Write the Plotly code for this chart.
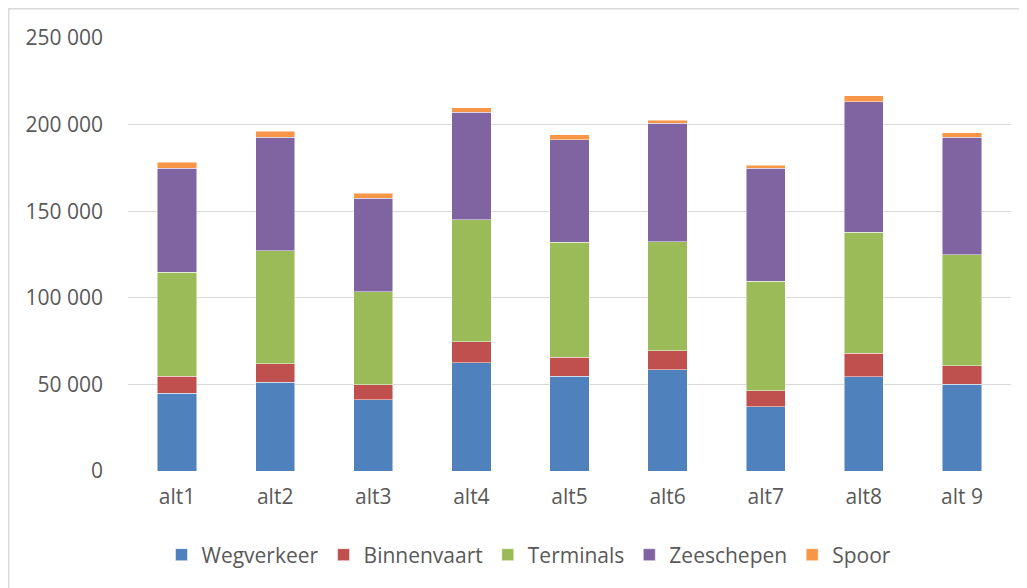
import plotly.graph_objects as go

categories = ["alt1", "alt2", "alt3", "alt4", "alt5", "alt6", "alt7", "alt8", "alt 9"]
wegverkeer = [45000, 51300, 41200, 62500, 54600, 58500, 37200, 54500, 50000]
binnenvaart = [9800, 10600, 8600, 12100, 11100, 11000, 9000, 13600, 10800]
terminals = [60000, 65200, 53800, 70600, 66300, 63000, 63300, 69800, 64200]
zeeschepen = [60000, 65500, 53800, 61900, 59400, 68300, 65400, 75200, 67700]
spoor = [3400, 3500, 2900, 2500, 2700, 1600, 1500, 3600, 2700]

series = [
    ("Wegverkeer", wegverkeer, "#4F81BD"),
    ("Binnenvaart", binnenvaart, "#C0504D"),
    ("Terminals", terminals, "#9BBB59"),
    ("Zeeschepen", zeeschepen, "#8064A2"),
    ("Spoor", spoor, "#F79646"),
]

FONT = "Open Sans"
TXT = "#595959"
GRID = "#D9D9D9"
FS = 21

fig = go.Figure()
for name, vals, col in series:
    fig.add_trace(go.Bar(
        x=categories, y=vals, name=name,
        marker=dict(color=col, line=dict(color="rgba(255,255,255,0.6)", width=0.8)),
    ))

# page body has an 8px margin, so the figure is placed at (8, 8) on screen
OFF = 8
W, H = 1027 - OFF, 588 - OFF
L, R, T, B = 128 - OFF, 16, 38 - OFF, 588 - 471
pw, ph = W - L - R, H - T - B

def px(x):
    return (x - OFF - L) / pw

def py(y):
    return (H - B - (y - OFF)) / ph

fig.update_layout(
    width=W, height=H,
    barmode="stack", bargap=0.6,
    margin=dict(l=L, r=R, t=T, b=B, pad=0),
    paper_bgcolor="white", plot_bgcolor="white",
    separators=", ",
    font=dict(family=FONT, size=FS, color=TXT),
    legend=dict(
        orientation="h", x=px(529), xanchor="center", y=py(555), yanchor="middle",
        font=dict(family=FONT, size=FS, color=TXT), itemwidth=30, traceorder="normal",
        bgcolor="rgba(0,0,0,0)",
    ),
    xaxis=dict(
        showgrid=False, showline=False, zeroline=False, ticks="",
        tickfont=dict(family=FONT, size=FS, color=TXT), ticklabelstandoff=11,
    ),
    yaxis=dict(
        range=[0, 250000], tick0=0, dtick=50000, tickformat=",d",
        showgrid=True, gridcolor=GRID, gridwidth=1.3, zeroline=False, showline=False,
        ticks="", tickfont=dict(family=FONT, size=FS, color=TXT), ticklabelstandoff=24,
    ),
    shapes=[
        dict(type="line", xref="paper", yref="paper", x0=px(8.75), x1=px(8.75), y0=py(8), y1=py(600),
             line=dict(color=GRID, width=1.5)),
        dict(type="line", xref="paper", yref="paper", x0=px(8), x1=px(1040), y0=py(8.75), y1=py(8.75),
             line=dict(color=GRID, width=1.5)),
    ],
)

fig.write_html("out.html")
